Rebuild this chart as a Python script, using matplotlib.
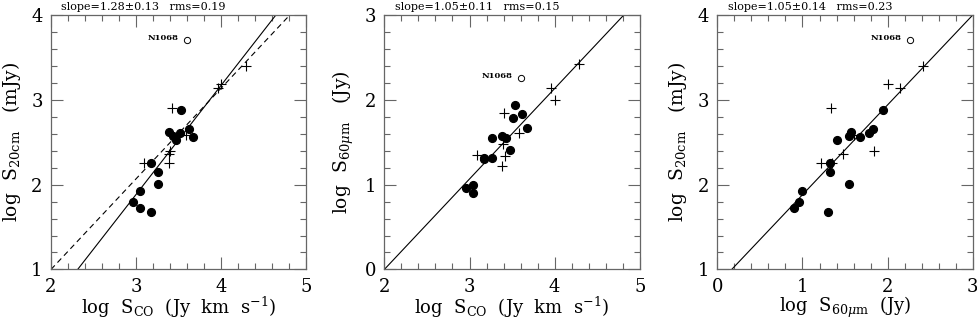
import matplotlib
matplotlib.use("Agg")
import matplotlib.pyplot as plt
from matplotlib.ticker import MultipleLocator

plt.rcParams['font.family'] = ['DejaVu Serif']
plt.rcParams['mathtext.fontset'] = 'dejavuserif'

# galaxies with filled circles
sco_dot = [2.96, 3.04, 3.04, 3.17, 3.17, 3.26, 3.26, 3.38, 3.43, 3.47, 3.51, 3.53, 3.62, 3.67]
s20_dot = [1.79, 1.92, 1.73, 1.68, 2.26, 2.15, 2.01, 2.62, 2.57, 2.53, 2.61, 2.88, 2.66, 2.56]
s60_dot = [0.96, 1.00, 0.90, 1.30, 1.32, 1.32, 1.55, 1.57, 1.55, 1.41, 1.78, 1.94, 1.83, 1.67]

# galaxies with crosses
sco_plus = [3.09, 3.38, 3.40, 3.42, 3.58, 3.39, 3.96, 4.00, 4.29]
s20_plus = [2.25, 2.25, 2.40, 2.90, 2.59, 2.36, 3.14, 3.19, 3.40]
s60_plus = [1.35, 1.22, 1.84, 1.34, 1.61, 1.48, 2.14, 2.00, 2.42]

# NGC 1068 (open circle)
n1068 = {'sco': 3.60, 's20': 3.70, 's60': 2.26}

fit_text = ["slope=1.28\u00b10.13   rms=0.19",
            "slope=1.05\u00b10.11   rms=0.15",
            "slope=1.05\u00b10.14   rms=0.23"]

# fitted lines as (x0, y0, slope)
fit_solid = [(2.313, 1.0, 1.289), (2.0, 0.0, 1.067), (0.169, 1.0, 1.060)]
fit_dash = (2.0, 1.0, 1.07)

xlab_co = r"log  S$_{\rm CO}$  (Jy  km  s$^{-1}$)"
xlab_60 = r"log  S$_{60\mu{\rm m}}$  (Jy)"
ylab_20 = r"log  S$_{20{\rm cm}}$   (mJy)"
ylab_60 = r"log  S$_{60\mu{\rm m}}$   (Jy)"

panels = [
    dict(x=(sco_dot, sco_plus, n1068['sco']), y=(s20_dot, s20_plus, n1068['s20']),
         xlim=(2, 5), ylim=(1, 4), xlabel=xlab_co, ylabel=ylab_20),
    dict(x=(sco_dot, sco_plus, n1068['sco']), y=(s60_dot, s60_plus, n1068['s60']),
         xlim=(2, 5), ylim=(0, 3), xlabel=xlab_co, ylabel=ylab_60),
    dict(x=(s60_dot, s60_plus, n1068['s60']), y=(s20_dot, s20_plus, n1068['s20']),
         xlim=(0, 3), ylim=(1, 4), xlabel=xlab_60, ylabel=ylab_20),
]

lefts = [0.0522, 0.3934, 0.7342]
frame_col = '#666666'

fig = plt.figure(figsize=(9.77, 3.2), dpi=100)

for i, p in enumerate(panels):
    ax = fig.add_axes([lefts[i], 0.158, 0.2615, 0.795])
    xd, xp, xn = p['x']
    yd, yp, yn = p['y']

    ax.plot(xd, yd, 'o', color='black', markersize=5.6, zorder=3)
    ax.plot(xp, yp, '+', color='black', markersize=7, markeredgewidth=0.8, zorder=3)
    ax.plot([xn], [yn], 'o', markerfacecolor='white', markeredgecolor='black',
            markersize=4.5, markeredgewidth=0.7, zorder=3)
    ax.annotate("N1068", (xn, yn), xytext=(-6, 1.5), textcoords='offset points',
                ha='right', va='center', fontsize=6, fontweight='bold')

    x0, y0, m = fit_solid[i]
    ax.axline((x0, y0), slope=m, color='black', linewidth=0.8)
    if i == 0:
        ax.axline(fit_dash[:2], slope=fit_dash[2], color='black', linewidth=0.8,
                  linestyle=(0, (5, 3.5)))

    ax.set_xlim(*p['xlim'])
    ax.set_ylim(*p['ylim'])
    ax.xaxis.set_major_locator(MultipleLocator(1))
    ax.xaxis.set_minor_locator(MultipleLocator(0.2))
    ax.yaxis.set_major_locator(MultipleLocator(1))
    ax.yaxis.set_minor_locator(MultipleLocator(0.2))
    ax.tick_params(which='both', direction='in', top=True, right=True,
                   color=frame_col, labelsize=13)
    ax.tick_params(which='major', length=8.5, width=0.8)
    ax.tick_params(which='minor', length=4.5, width=0.8)
    ax.tick_params(axis='x', pad=6)
    ax.tick_params(axis='y', pad=6)
    for s in ax.spines.values():
        s.set_color(frame_col)
        s.set_linewidth(0.9)

    ax.set_xlabel(p['xlabel'], fontsize=13)
    ax.xaxis.label.set_va('center')
    ax.xaxis.set_label_coords(0.5, -0.15)
    ax.set_ylabel(p['ylabel'], fontsize=13.5, labelpad=6)
    ax.text(0.04, 1.01, fit_text[i], transform=ax.transAxes, fontsize=8,
            ha='left', va='bottom')

fig.savefig("out.png", dpi=100)
